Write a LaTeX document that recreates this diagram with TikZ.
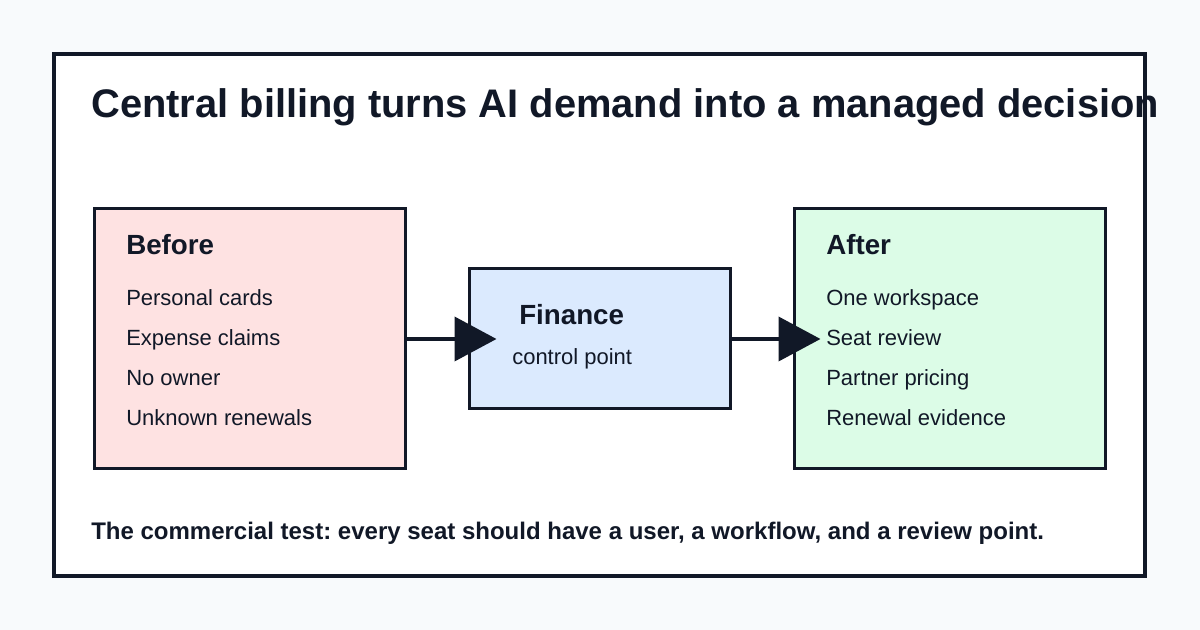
\documentclass[tikz,border=0pt]{standalone}
\usepackage{fontspec}
\setmainfont{Liberation Sans}
\usetikzlibrary{arrows.meta}
\definecolor{InkColor}{HTML}{111827}
\definecolor{PageColor}{HTML}{F8FAFC}
\definecolor{BeforeColor}{HTML}{FEE2E2}
\definecolor{FinColor}{HTML}{DBEAFE}
\definecolor{AfterColor}{HTML}{DCFCE7}
\frenchspacing
\tikzset{
  panel/.style={draw=InkColor, line width=2.25pt, rectangle, inner sep=0pt},
  txt/.style={anchor=base west, inner sep=0pt, text=InkColor},
  head/.style={txt, font=\bfseries\fontsize{20.8}{24}\selectfont},
  item/.style={txt, font=\fontsize{16.5}{20}\selectfont},
  flow/.style={draw=InkColor, line width=3pt, -{Triangle[length=31.5pt, width=33pt]}},
}

\begin{document}
\begin{tikzpicture}[x=0.75pt, y=-0.75pt]
  \useasboundingbox[fill=PageColor] (0,0) rectangle (1200,630);
  % outer frame
  \draw[fill=white, draw=InkColor, line width=3pt] (54,54) rectangle (1145,576);
  \node[txt, font=\bfseries\fontsize{29.9}{36}\selectfont] (title) at (91,118)
    {Central billing turns AI demand into a managed decision};

  % the three panels
  \node[panel, fill=BeforeColor, minimum width=233.25pt, minimum height=195pt] (before) at (249.5,339) {};
  \node[panel, fill=FinColor, minimum width=195.75pt, minimum height=105pt] (fin) at (599.5,339) {};
  \node[panel, fill=AfterColor, minimum width=233.25pt, minimum height=195pt] (after) at (949.5,339) {};

  % before
  \node[head] (beforeHead) at (126,255) {Before};
  \node[item] (b1) at (126,306) {Personal cards};
  \node[item] (b2) at (126,346) {Expense claims};
  \node[item] (b3) at (126,386) {No owner};
  \node[item] (b4) at (126,426) {Unknown renewals};

  % finance
  \node[head] (finHead) at (519,325) {Finance};
  \node[item] (finSub) at (512,365) {control point};

  % after
  \node[head] (afterHead) at (826,255) {After};
  \node[item] (a1) at (826,306) {One workspace};
  \node[item] (a2) at (826,346) {Seat review};
  \node[item] (a3) at (826,386) {Partner pricing};
  \node[item] (a4) at (826,426) {Renewal evidence};

  % arrows
  \draw[flow] (before.east) -- ([xshift=21.75pt]fin.west);
  \draw[flow] (fin.east) -- ([xshift=21pt]after.west);

  \node[txt, font=\bfseries\fontsize{18}{22}\selectfont] (footer) at (91,540)
    {The commercial test: every seat should have a user, a workflow, and a review point.};
\end{tikzpicture}
\end{document}
